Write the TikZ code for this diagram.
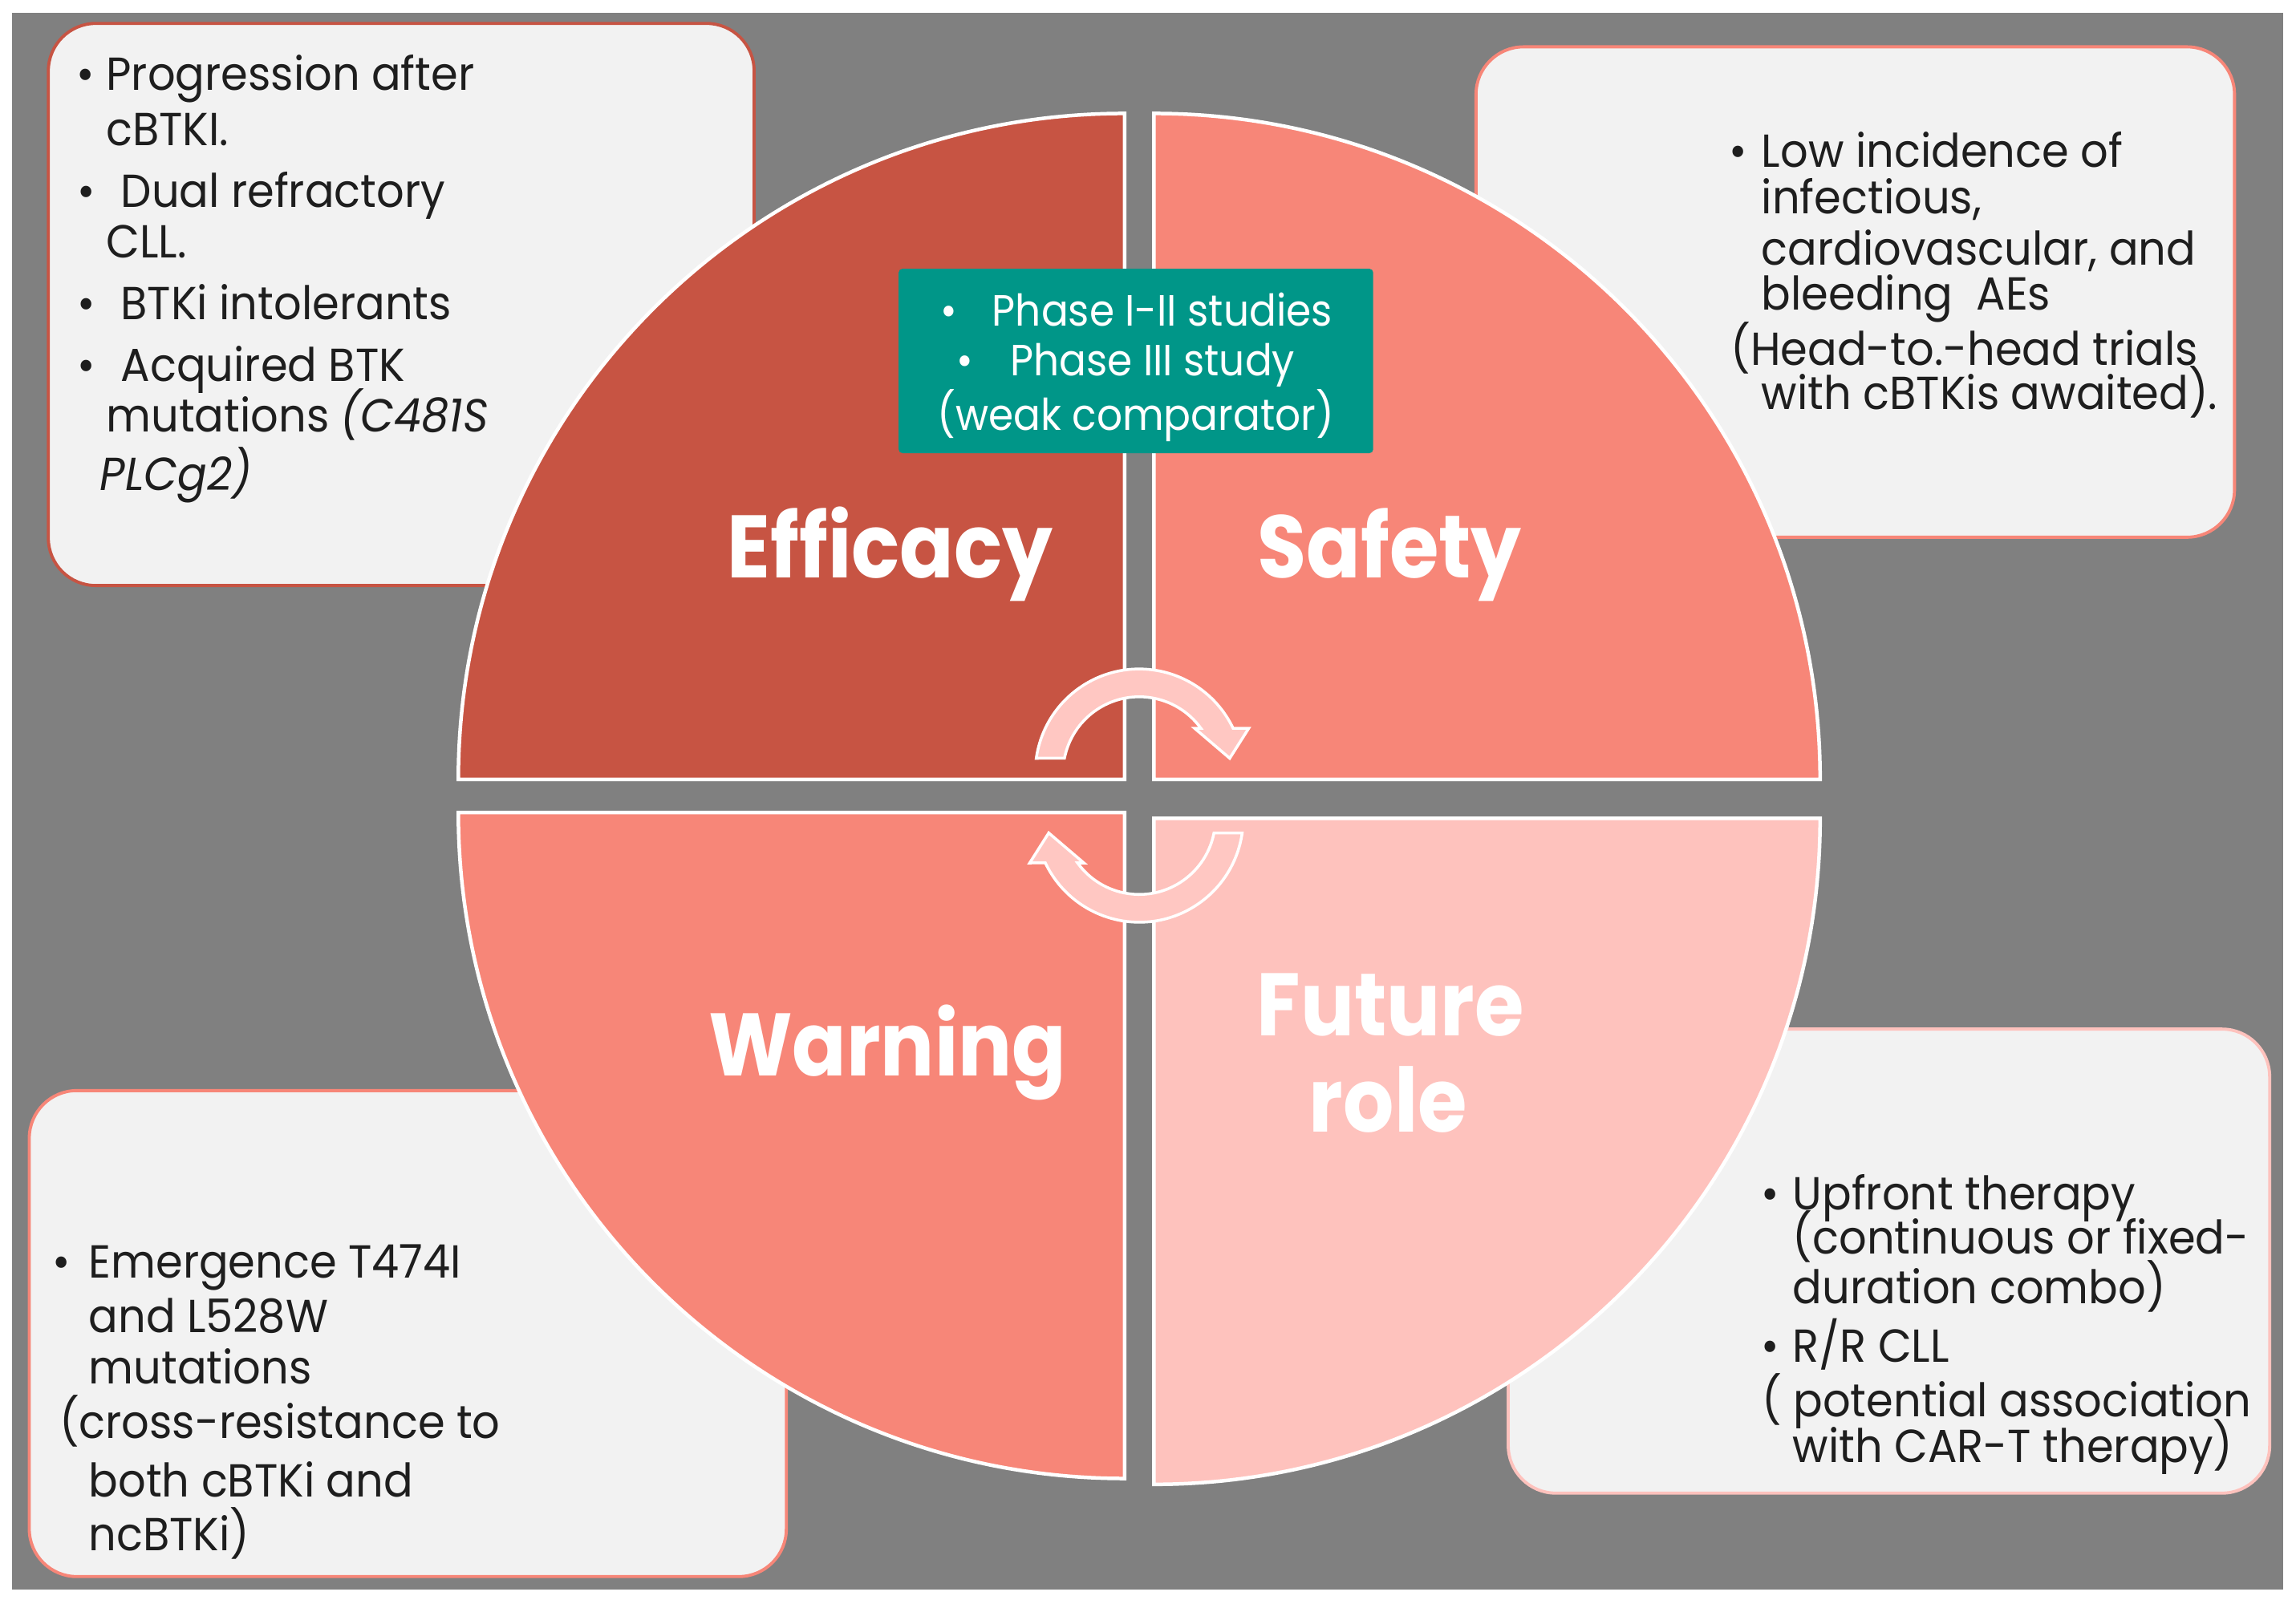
\documentclass[tikz,border=0pt]{standalone}
\usepackage{fontspec}
\setmainfont{Poppins}[FakeStretch=0.94]
\newfontfamily\lblfont{Poppins}[FakeStretch=0.9]
\newfontfamily\tealfont{Poppins}[FakeStretch=0.92]
\definecolor{bggray}{RGB}{128,128,128}
\definecolor{boxfill}{RGB}{242,242,242}
\definecolor{effcol}{RGB}{199,84,67}
\definecolor{safcol}{RGB}{247,134,120}
\definecolor{futcol}{RGB}{254,194,189}
\definecolor{arrowfill}{RGB}{255,199,194}
\definecolor{tealcol}{RGB}{0,150,136}
\definecolor{txtcol}{RGB}{30,30,30}
\begin{document}
\begin{tikzpicture}[x=0.02cm,y=-0.02cm,
  txt/.style={anchor=base west,inner sep=0pt,text=txtcol,font=\fontsize{18}{22}\selectfont},
  bul/.style={anchor=base,inner sep=0pt,text=txtcol,font=\fontsize{18}{22}\selectfont},
  ttxt/.style={inner sep=0pt,text=white,font=\tealfont\fontsize{17}{20}\selectfont},
  lbl/.style={anchor=base,inner sep=0pt,text=white,font=\lblfont\bfseries\fontsize{34.5}{40}\selectfont},
  infobox/.style={fill=boxfill,line width=1.2pt,rounded corners=0.65cm},
  quad/.style={draw=white,line width=1.4pt},
  cyc/.style={fill=arrowfill,draw=white,line width=1.1pt,line join=miter}]

\useasboundingbox (0,0) rectangle (1568,1098);
\fill[white] (0,0) rectangle (1568,1098);
\fill[bggray] (8,9) rectangle (1559,1086);

% info boxes
\draw[infobox,draw=effcol] (33,16) rectangle (515,400);
\draw[infobox,draw=safcol] (1008,32) rectangle (1526,367);
\draw[infobox,draw=safcol] (20,745) rectangle (537,1077);
\draw[infobox,draw=futcol] (1030,703) rectangle (1550,1020);

% quadrants
\draw[quad,fill=effcol] (768,532.5) -- ++(-455,0) arc[start angle=180,end angle=270,radius=455] -- cycle;
\draw[quad,fill=safcol] (788,532.5) -- ++(0,-455) arc[start angle=270,end angle=360,radius=455] -- cycle;
\draw[quad,fill=safcol] (768,555) -- ++(0,455) arc[start angle=90,end angle=180,radius=455] -- cycle;
\draw[quad,fill=futcol] (788,559) -- ++(455,0) arc[start angle=0,end angle=90,radius=455] -- cycle;

% cycle arrows
\path[cyc] (707.7,518) arc[start angle=-171.9,end angle=-25.4,radius=71]
  -- (852.8,497.5) -- (839.8,518) -- (815.8,497.5) -- (820.1,497.5)
  arc[start angle=-35.9,end angle=-168.9,radius=52] -- cycle;
\path[cyc,rotate around={180:(778,543.5)}] (707.7,518) arc[start angle=-171.9,end angle=-25.4,radius=71]
  -- (852.8,497.5) -- (839.8,518) -- (815.8,497.5) -- (820.1,497.5)
  arc[start angle=-35.9,end angle=-168.9,radius=52] -- cycle;

% teal box
\fill[tealcol,rounded corners=1.5pt] (613.7,183.6) rectangle (937.8,309.6);
\node[ttxt,anchor=base] (tb1) at (648,222.8) {\textbullet};
\node[ttxt,anchor=base west] (tt1) at (677.3,222.8) {Phase I-II studies};
\node[ttxt,anchor=base] (tb2) at (659,256.6) {\textbullet};
\node[ttxt,anchor=base west] (tt2) at (689.6,256.6) {Phase III study};
\node[ttxt,anchor=base] (tt3) at (775.7,294) {(weak comparator)};

% labels
\node[lbl] (eff) at (608,394.8) {Efficacy};
\node[lbl] (saf) at (949,394.8) {Safety};
\node[lbl] (war) at (606,735.2) {Warning};
\node[lbl] (fut1) at (949.5,707.4) {Future};
\node[lbl] (fut2) at (948,773.4) {role};

% top-left text
\node[bul] (tlb1) at (58.5,61.5) {\textbullet};
\node[txt] (tl1) at (72.2,61.5) {Progression after};
\node[txt] (tl2) at (72.2,99.5) {cBTKI.};
\node[bul] (tlb2) at (59,141.6) {\textbullet};
\node[txt] (tl3) at (82.2,141.6) {Dual refractory};
\node[txt] (tl4) at (72.2,176.3) {CLL.};
\node[bul] (tlb3) at (59,218.3) {\textbullet};
\node[txt] (tl5) at (82.2,218.3) {BTKi intolerants};
\node[bul] (tlb4) at (59,260.3) {\textbullet};
\node[txt] (tl6) at (82.2,260.3) {Acquired BTK};
\node[txt] (tl7) at (72.2,295) {mutations \textit{(C481S}};
\node[txt] (tl8) at (68,335) {\textit{PLCg2)}};

% top-right text
\node[bul] (trb1) at (1187,114.2) {\textbullet};
\node[txt] (tr1) at (1202.7,114.2) {Low incidence of};
\node[txt] (tr2) at (1202.7,146.1) {infectious,};
\node[txt] (tr3) at (1202.7,180.8) {cardiovascular, and};
\node[txt] (tr4) at (1202.7,211.9) {bleeding\ \ AEs};
\node[txt] (tr5) at (1181.7,249.3) {(Head-to.-head trials};
\node[txt] (tr6) at (1202.7,279.5) {with cBTKis awaited).};

% bottom-left text
\node[bul] (blb1) at (42,873) {\textbullet};
\node[txt] (bl1) at (60.3,873) {Emergence T474I};
\node[txt] (bl2) at (60.3,910.5) {and L528W};
\node[txt] (bl3) at (60.3,945.2) {mutations};
\node[txt] (bl4) at (40.2,982.6) {(cross-resistance to};
\node[txt] (bl5) at (60.3,1022.8) {both cBTKi and};
\node[txt] (bl6) at (60.3,1059.4) {ncBTKi)};

% bottom-right text
\node[bul] (brb1) at (1209,826.5) {\textbullet};
\node[txt] (br1) at (1224,826.5) {Upfront therapy};
\node[txt] (br2) at (1224,856.6) {(continuous or fixed-};
\node[txt] (br3) at (1224,890.4) {duration combo)};
\node[bul] (brb2) at (1209,930.6) {\textbullet};
\node[txt] (br4) at (1224,930.6) {R/R CLL};
\node[txt] (br5) at (1203,968) {( potential association};
\node[txt] (br6) at (1224,999) {with CAR-T therapy)};
\end{tikzpicture}
\end{document}
